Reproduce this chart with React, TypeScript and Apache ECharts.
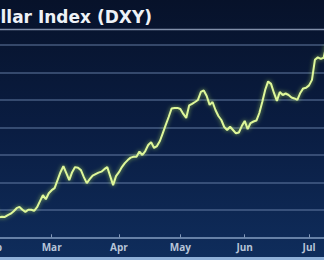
import React, { useEffect, useRef } from "react";
import * as echarts from "echarts";

const titleText = "U.S. Dollar Index (DXY)";

const dates = [
  "2022-02-01","2022-02-02","2022-02-03","2022-02-04","2022-02-07","2022-02-08","2022-02-09","2022-02-10","2022-02-11",
  "2022-02-14","2022-02-15","2022-02-16","2022-02-17","2022-02-18","2022-02-21","2022-02-22","2022-02-23","2022-02-24","2022-02-25","2022-02-28",
  "2022-03-01","2022-03-02","2022-03-03","2022-03-04","2022-03-07","2022-03-08","2022-03-09","2022-03-10","2022-03-11",
  "2022-03-14","2022-03-15","2022-03-16","2022-03-17","2022-03-18","2022-03-21","2022-03-22","2022-03-23","2022-03-24","2022-03-25",
  "2022-03-28","2022-03-29","2022-03-30","2022-03-31",
  "2022-04-01","2022-04-04","2022-04-05","2022-04-06","2022-04-07","2022-04-08","2022-04-11","2022-04-12","2022-04-13","2022-04-14","2022-04-15",
  "2022-04-18","2022-04-19","2022-04-20","2022-04-21","2022-04-22","2022-04-25","2022-04-26","2022-04-27","2022-04-28","2022-04-29",
  "2022-05-02","2022-05-03","2022-05-04","2022-05-05","2022-05-06","2022-05-09","2022-05-10","2022-05-11","2022-05-12","2022-05-13",
  "2022-05-16","2022-05-17","2022-05-18","2022-05-19","2022-05-20","2022-05-23","2022-05-24","2022-05-25","2022-05-26","2022-05-27",
  "2022-05-30","2022-05-31",
  "2022-06-01","2022-06-02","2022-06-03","2022-06-06","2022-06-07","2022-06-08","2022-06-09","2022-06-10","2022-06-13","2022-06-14",
  "2022-06-15","2022-06-16","2022-06-17","2022-06-20","2022-06-21","2022-06-22","2022-06-23","2022-06-24","2022-06-27","2022-06-28",
  "2022-06-29","2022-06-30",
  "2022-07-01","2022-07-04","2022-07-05","2022-07-06","2022-07-07","2022-07-08","2022-07-11",
];

const dxy = [
  96.2, 95.95, 95.45, 95.5, 95.48, 95.61, 95.72, 95.9, 96.12,
  96.21, 96.01, 95.85, 96.01, 96.01, 95.93, 96.19, 96.63, 97.07, 96.77, 97.21,
  97.43, 97.58, 98.16, 98.74, 99.18, 98.67, 98.16, 98.74, 99.11,
  99.07, 98.89, 98.38, 97.94, 98.23, 98.49, 98.6, 98.71, 98.78, 98.96,
  99.11, 98.45, 97.8, 98.45,
  98.74, 99.11, 99.4, 99.62, 99.8, 99.86, 99.86, 100.24, 99.99, 100.28, 100.72,
  100.93, 100.5, 100.64, 101.01, 101.59, 102.18, 102.76, 103.38, 103.42, 103.42,
  103.34, 102.98, 102.69, 103.6, 103.71, 103.85, 104.0, 104.58, 104.69, 104.29,
  103.64, 103.85, 103.27, 102.83, 102.54, 102.03, 101.81, 102.05, 101.81, 101.57,
  101.63, 102.1,
  102.47, 101.88, 102.32, 102.43, 102.5, 103.05, 103.85, 104.73, 105.35, 105.17,
  104.51, 103.93, 104.58, 104.36, 104.47, 104.36, 104.18, 104.11, 104.0, 104.51,
  104.84, 104.88,
  105.06, 105.46, 106.92, 107.1, 106.99, 107.07, 108.09,
];

const monthNames = ["Jan","Feb","Mar","Apr","May","Jun","Jul","Aug","Sep","Oct","Nov","Dec"];
const yMin = 94;
const yMax = 108;
const yStep = 2;

function isFirstOfMonth(index: number): boolean {
  if (index === 0) return true;
  return dates[index].slice(5, 7) !== dates[index - 1].slice(5, 7);
}

export default function App() {
  const ref = useRef<HTMLDivElement>(null);
  useEffect(() => {
    if (!ref.current) return;
    const chart = echarts.init(ref.current, null, { renderer: "svg" });
    chart.setOption({
      animation: false,
      backgroundColor: {
        type: "linear", x: 0, y: 0, x2: 0, y2: 1,
        colorStops: [
          { offset: 0, color: "#07122a" },
          { offset: 0.5, color: "#0a1d42" },
          { offset: 1, color: "#0f2d5c" },
        ],
      },
      grid: { left: -6.8, right: -2.6, top: 45, bottom: 22.7, outerBoundsMode: "none" },
      xAxis: {
        type: "category",
        data: dates,
        boundaryGap: false,
        axisLine: { show: true, lineStyle: { color: "rgba(140,165,200,0.75)", width: 1.5 } },
        axisTick: {
          show: true,
          interval: (i: number) => isFirstOfMonth(i),
          length: 3,
          inside: true,
          lineStyle: { color: "rgba(160,180,210,0.8)", width: 1 },
        },
        axisLabel: {
          interval: (i: number) => isFirstOfMonth(i),
          formatter: (v: string) => monthNames[parseInt(v.slice(5, 7), 10) - 1],
          color: "#b6c4d8",
          fontSize: 10,
          fontWeight: "bold",
          fontFamily: "Open Sans",
          margin: 5,
        },
        splitLine: { show: false },
      },
      yAxis: {
        type: "value",
        min: yMin,
        max: yMax,
        interval: yStep,
        axisLabel: { show: false },
        axisLine: { show: false },
        axisTick: { show: false },
        splitLine: { show: true, lineStyle: { color: "rgba(110,135,175,0.6)", width: 1.5 } },
      },
      series: [
        {
          type: "line",
          data: dxy,
          showSymbol: false,
          smooth: false,
          lineStyle: {
            color: "#def79a",
            width: 2,
            shadowColor: "rgba(190,240,90,0.7)",
            shadowBlur: 4,
          },
        },
      ],
      graphic: [
        {
          type: "text",
          x: 152,
          y: 17,
          style: {
            text: titleText,
            fill: "#eef2f7",
            font: "bold 17px 'DejaVu Sans'",
            textAlign: "right",
            textVerticalAlign: "middle",
          },
        },
        {
          type: "line",
          shape: { x1: 0, y1: 29.5, x2: 324, y2: 29.5 },
          style: { stroke: "rgba(150,165,190,0.85)", lineWidth: 1.5 },
        },
        {
          type: "rect",
          shape: { x: 0, y: 257, width: 324, height: 3 },
          style: { fill: "#8fb0d8" },
        },
      ],
    });
    return () => chart.dispose();
  }, []);
  return (
    <div
      ref={ref}
      style={{ position: "fixed", left: 0, top: 0, width: 324, height: 260 }}
    />
  );
}
